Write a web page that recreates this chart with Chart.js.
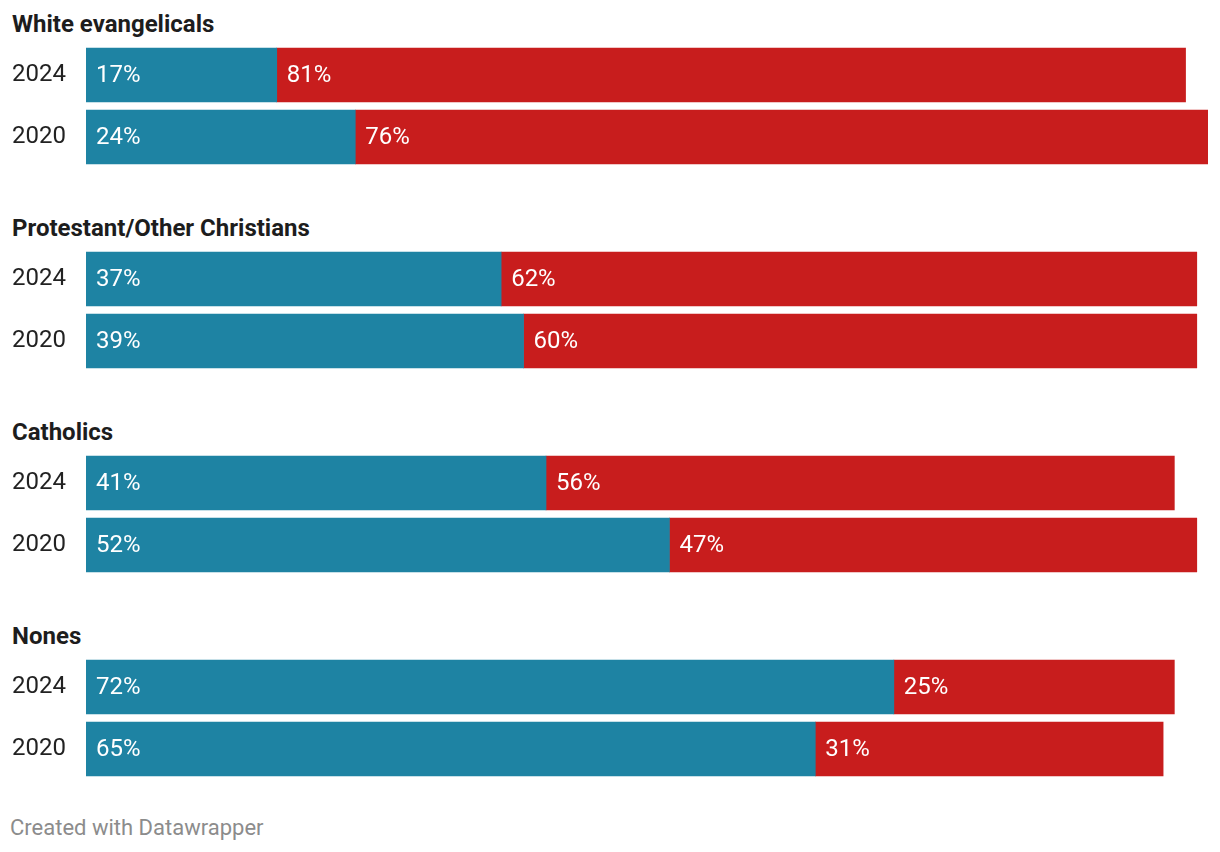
<!DOCTYPE html>
<html>
<head>
<meta charset="utf-8">
<script src="https://cdn.jsdelivr.net/npm/chart.js@4"></script>
<style>
  body { margin: 0; background: #fff; font-family: Roboto, sans-serif; }
  #wrap { position: relative; width: 1220px; height: 852px; }
  .block { position: absolute; left: 0; width: 1220px; height: 204px; }
  .block h4 { position: absolute; left: 12px; top: 12px; margin: 0; font: bold 24px/24px Roboto, sans-serif; color: #1d1d1d; }
  .block .cv { position: absolute; left: 0; top: 44px; width: 1220px; height: 124px; }
  #footer { position: absolute; left: 10px; top: 817px; font: 22px/22px Roboto, sans-serif; color: #8c8c8c; }
</style>
</head>
<body>
<div id="wrap">
  <div id="blocks"></div>
  <div id="footer">Created with Datawrapper</div>
</div>
<script>
// groups, one small chart each
var groups = ['White evangelicals', 'Protestant/Other Christians', 'Catholics', 'Nones'];
var years = ['2024', '2020'];
// democratic share (Harris 2024 / Biden 2020)
var demShare = [[17, 24], [37, 39], [41, 52], [72, 65]];
// republican share (Trump)
var repShare = [[81, 76], [62, 60], [56, 47], [25, 31]];

var blue = '#1e83a3';
var red = '#c81d1d';

// write the % label at the start of every segment
var segLabels = {
    id: 'segLabels',
    afterDatasetsDraw: function(chart) {
        var ctx = chart.ctx;
        ctx.save();
        ctx.fillStyle = '#fff';
        ctx.font = '24px Roboto, sans-serif';
        ctx.textAlign = 'left';
        ctx.textBaseline = 'middle';
        chart.data.datasets.forEach(function(ds, i) {
            chart.getDatasetMeta(i).data.forEach(function(bar, j) {
                var p = bar.getProps(['base', 'y'], true);
                ctx.fillText(ds.data[j] + '%', p.base + 10, p.y + 1);
            });
        });
        ctx.restore();
    }
};

var holder = document.getElementById('blocks');
groups.forEach(function(name, g) {
    var block = document.createElement('div');
    block.className = 'block';
    block.style.top = (g * 204) + 'px';
    block.innerHTML = '<h4>' + name + '</h4><div class="cv"><canvas></canvas></div>';
    holder.appendChild(block);

    new Chart(block.querySelector('canvas'), {
        type: 'bar',
        data: {
            labels: years,
            datasets: [
                { label: 'Democrat', data: demShare[g], backgroundColor: blue, borderWidth: 0, barThickness: 54 },
                { label: 'Republican', data: repShare[g], backgroundColor: red, borderWidth: 0, barThickness: 54 }
            ]
        },
        options: {
            indexAxis: 'y',
            responsive: true,
            maintainAspectRatio: false,
            animation: false,
            layout: { padding: { left: 0, right: 12, top: 0, bottom: 0 } },
            plugins: {
                legend: { display: false },
                tooltip: { enabled: false }
            },
            scales: {
                x: { stacked: true, min: 0, max: 100, display: false },
                y: {
                    stacked: true,
                    grid: { display: true, drawOnChartArea: false, drawTicks: true, tickLength: 20, color: 'rgba(0,0,0,0)' },
                    border: { display: false },
                    ticks: { color: '#222', font: { family: 'Roboto', size: 24 }, padding: 0 },
                    afterFit: function(scale) {
                        scale.width = 86;
                        scale.paddingTop = 0;
                        scale.paddingBottom = 0;
                    }
                }
            }
        },
        plugins: [segLabels]
    });
});
</script>
</body>
</html>
